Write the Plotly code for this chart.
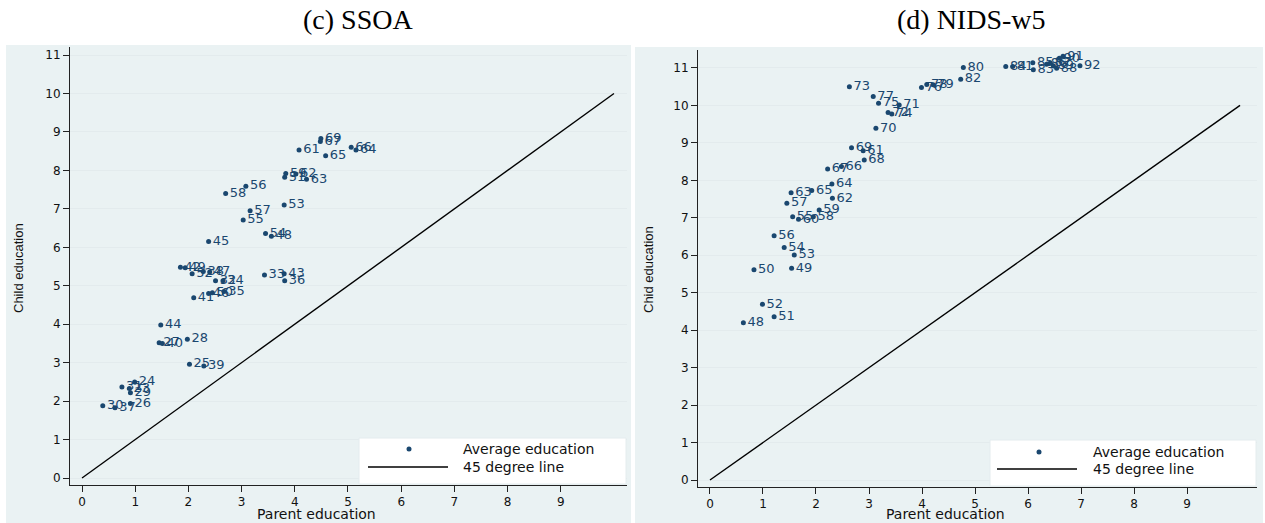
import plotly.graph_objects as go

W, H = 1265, 523

# ---------------- data ----------------
ssoa_labels = ["69", "67", "66", "64", "61", "65", "59", "62", "51", "63", "56", "58", "53", "57",
               "55", "54", "48", "45", "42", "49", "52", "38", "47", "32", "34", "41", "46", "50",
               "35", "33", "43", "36", "44", "27", "40", "28", "25", "39", "24", "31", "23", "29",
               "30", "37", "26"]
ssoa_parent = [4.49, 4.48, 5.06, 5.15, 4.08, 4.58, 3.83, 4.02, 3.81, 4.22, 3.08, 2.70, 3.80, 3.16,
               3.03, 3.45, 3.56, 2.38, 1.85, 1.94, 2.07, 2.28, 2.40, 2.51, 2.65, 2.10, 2.38, 2.45,
               2.67, 3.43, 3.80, 3.81, 1.48, 1.45, 1.51, 1.98, 2.02, 2.29, 0.99, 0.75, 0.89, 0.91,
               0.39, 0.62, 0.91]
ssoa_child = [8.83, 8.75, 8.60, 8.53, 8.53, 8.38, 7.92, 7.91, 7.82, 7.77, 7.59, 7.40, 7.10, 6.95,
              6.71, 6.36, 6.29, 6.15, 5.48, 5.47, 5.31, 5.37, 5.36, 5.13, 5.13, 4.69, 4.80, 4.82,
              4.85, 5.28, 5.31, 5.13, 3.98, 3.52, 3.50, 3.61, 2.96, 2.91, 2.50, 2.37, 2.33, 2.22,
              1.88, 1.83, 1.94]

nids_labels = ["48", "49", "50", "51", "52", "53", "54", "55", "56", "57", "58", "59", "60", "61",
               "62", "63", "64", "65", "66", "67", "68", "69", "70", "71", "72", "73", "74", "75",
               "76", "77", "78", "79", "80", "81", "82", "83", "84", "85", "86", "87", "88", "89",
               "90", "91", "92"]
nids_parent = [0.63, 1.54, 0.83, 1.21, 0.99, 1.59, 1.40, 1.56, 1.21, 1.45, 1.95, 2.06, 1.67, 2.89,
               2.31, 1.53, 2.30, 1.92, 2.48, 2.22, 2.91, 2.67, 3.13, 3.57, 3.36, 2.63, 3.43, 3.18,
               3.99, 3.08, 4.09, 4.21, 4.78, 5.71, 4.73, 6.10, 5.58, 6.09, 6.35, 6.42, 6.54, 6.48,
               6.59, 6.66, 6.98]
nids_child = [4.20, 5.65, 5.61, 4.36, 4.69, 6.01, 6.21, 7.03, 6.52, 7.39, 7.03, 7.21, 6.96, 8.79,
              7.52, 7.67, 7.90, 7.73, 8.37, 8.30, 8.54, 8.87, 9.39, 10.01, 9.81, 10.50, 9.77, 10.06,
              10.48, 10.24, 10.56, 10.55, 11.01, 11.04, 10.70, 10.95, 11.04, 11.14, 11.10, 11.13,
              10.99, 11.05, 11.26, 11.31, 11.06]

line45 = [0, 10]
x_ticks = [0, 1, 2, 3, 4, 5, 6, 7, 8, 9]
y_ticks = [0, 1, 2, 3, 4, 5, 6, 7, 8, 9, 10, 11]

# ---------------- style ----------------
NAVY = "#1a476f"
REGION = "#eaf2f3"
GRID = "#e3ebed"
SANS = "DejaVu Sans"


def px(x):
    return x / W


def py(y):
    return 1 - y / H


fig = go.Figure()

panels = [
    dict(xa="x", ya="y", px_=ssoa_parent, py_=ssoa_child, lab=ssoa_labels),
    dict(xa="x2", ya="y2", px_=nids_parent, py_=nids_child, lab=nids_labels),
]
for p in panels:
    fig.add_trace(go.Scatter(x=line45, y=line45, mode="lines", xaxis=p["xa"], yaxis=p["ya"],
                             line=dict(color="black", width=1.4), showlegend=False,
                             hoverinfo="skip"))
    fig.add_trace(go.Scatter(x=p["px_"], y=p["py_"], mode="markers+text", text=p["lab"],
                             textposition="middle right", xaxis=p["xa"], yaxis=p["ya"],
                             marker=dict(color=NAVY, size=5),
                             textfont=dict(family=SANS, size=13, color=NAVY),
                             showlegend=False))

axis_common = dict(showline=True, linecolor="#222", linewidth=1, ticks="outside", ticklen=6,
                   tickcolor="#222", tickfont=dict(family=SANS, size=12, color="#111"),
                   zeroline=False, fixedrange=True)

fig.update_layout(
    width=W, height=H, margin=dict(l=0, r=0, t=0, b=0),
    paper_bgcolor="white", plot_bgcolor="white", showlegend=False,
    xaxis=dict(domain=[px(70), px(627)], range=[-0.226, 10.245], anchor="y",
               tickvals=x_ticks, showgrid=False, **axis_common),
    yaxis=dict(domain=[py(485), py(47)], range=[-0.182, 11.21], anchor="x",
               tickvals=y_ticks, showgrid=True, gridcolor=GRID, gridwidth=1, **axis_common),
    xaxis2=dict(domain=[px(698), px(1257)], range=[-0.226, 10.32], anchor="y2",
                tickvals=x_ticks, showgrid=False, **axis_common),
    yaxis2=dict(domain=[py(487), py(50)], range=[-0.187, 11.48], anchor="x2",
                tickvals=y_ticks, showgrid=True, gridcolor=GRID, gridwidth=1, **axis_common),
)

shapes = []
# graph regions
shapes.append(dict(type="rect", xref="paper", yref="paper", x0=px(6), x1=px(631), y0=0, y1=py(45),
                   fillcolor=REGION, line=dict(width=0), layer="below"))
shapes.append(dict(type="rect", xref="paper", yref="paper", x0=px(635), x1=px(1263), y0=0, y1=py(47),
                   fillcolor=REGION, line=dict(width=0), layer="below"))

annotations = []


def legend(x0, x1, y0, y1, mx, my, lx0, lx1, ly, tx):
    shapes.append(dict(type="rect", xref="paper", yref="paper", x0=px(x0), x1=px(x1), y0=py(y1),
                       y1=py(y0), fillcolor="white", line=dict(color="#e4ecee", width=1),
                       layer="above"))
    shapes.append(dict(type="circle", xref="paper", yref="paper", x0=px(mx - 2.5), x1=px(mx + 2.5),
                       y0=py(my + 2.5), y1=py(my - 2.5), fillcolor=NAVY, line=dict(width=0),
                       layer="above"))
    shapes.append(dict(type="line", xref="paper", yref="paper", x0=px(lx0), x1=px(lx1), y0=py(ly),
                       y1=py(ly), line=dict(color="black", width=1.4), layer="above"))
    annotations.append(dict(xref="paper", yref="paper", x=px(tx), y=py(my), text="Average education",
                            showarrow=False, xanchor="left", yanchor="middle",
                            font=dict(family=SANS, size=14, color="#111")))
    annotations.append(dict(xref="paper", yref="paper", x=px(tx), y=py(ly), text="45 degree line",
                            showarrow=False, xanchor="left", yanchor="middle",
                            font=dict(family=SANS, size=14, color="#111")))


legend(359, 626, 438, 484, 409, 449, 368, 448, 467, 461)
legend(990, 1256, 440, 486, 1039, 452, 997, 1077, 469, 1091)

# titles
annotations.append(dict(xref="paper", yref="paper", x=px(358), y=py(20), text="(c) SSOA",
                        showarrow=False, xanchor="center", yanchor="middle",
                        font=dict(family="Liberation Serif", size=28, color="black")))
annotations.append(dict(xref="paper", yref="paper", x=px(971), y=py(20), text="(d) NIDS-w5",
                        showarrow=False, xanchor="center", yanchor="middle",
                        font=dict(family="Liberation Serif", size=28, color="black")))
# axis titles
for cx, txt in [(316, "Parent education"), (945, "Parent education")]:
    annotations.append(dict(xref="paper", yref="paper", x=px(cx), y=py(514), text=txt,
                            showarrow=False, xanchor="center", yanchor="middle",
                            font=dict(family=SANS, size=14, color="#111")))
for cx, cy, txt in [(18, 268, "Child education"), (648, 270, "Chid education")]:
    annotations.append(dict(xref="paper", yref="paper", x=px(cx), y=py(cy), text=txt,
                            showarrow=False, xanchor="center", yanchor="middle", textangle=-90,
                            font=dict(family="Liberation Sans Narrow, Liberation Sans", size=13,
                                      color="#111")))

fig.update_layout(shapes=shapes, annotations=annotations)
fig.write_html("out.html")
